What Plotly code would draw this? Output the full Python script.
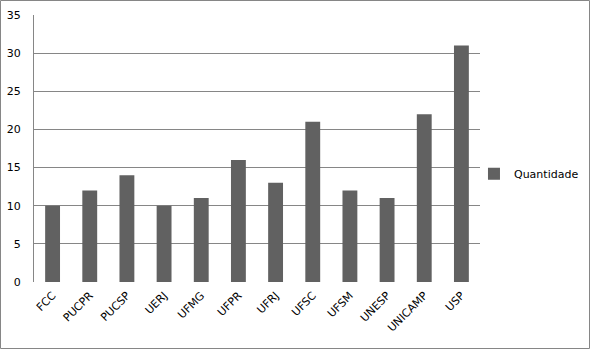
import plotly.graph_objects as go

categories = ["FCC", "PUCPR", "PUCSP", "UERJ", "UFMG", "UFPR", "UFRJ", "UFSC", "UFSM", "UNESP", "UNICAMP", "USP"]
quantidade = [10, 12, 14, 10, 11, 16, 13, 21, 12, 11, 22, 31]
series_name = "Quantidade"
y_ticks = [0, 5, 10, 15, 20, 25, 30, 35]

W, H = 590, 349
L, R, T, B = 34, 110, 15, 67
pw, ph = W - L - R, H - T - B

fig = go.Figure()
fig.add_trace(go.Bar(x=categories, y=quantidade, name=series_name,
                     marker=dict(color="#616161", line=dict(width=0))))

fig.update_layout(
    width=W, height=H,
    margin=dict(l=L, r=R, t=T, b=B, pad=0, autoexpand=False),
    paper_bgcolor="white", plot_bgcolor="white",
    font=dict(family="DejaVu Sans", size=11, color="black"),
    bargap=0.6,
    showlegend=True,
    legend=dict(x=-0.0135 + 1.0, y=0.405, xanchor="left", yanchor="middle",
                font=dict(size=11), itemwidth=30, bgcolor="rgba(0,0,0,0)"),
    xaxis=dict(tickangle=-45, showgrid=False, showline=False, ticks="",
               tickfont=dict(size=11), ticklabelstandoff=4),
    yaxis=dict(range=[0, 35], tickvals=y_ticks, showgrid=True, gridcolor="#868686",
               gridwidth=1, showline=True, linecolor="#868686", linewidth=1,
               ticks="", zeroline=False, ticklabelstandoff=10, tickfont=dict(size=11)),
    shapes=[dict(type="rect", xref="paper", yref="paper",
                 x0=(-L + 0.5) / pw, x1=(W - L - 0.5) / pw,
                 y0=(-B + 0.5) / ph, y1=(H - B - 0.5) / ph,
                 line=dict(color="#868686", width=1), fillcolor="rgba(0,0,0,0)")],
)

fig.write_html("out.html", config={"displayModeBar": False},
               post_script="document.body.style.margin='0';")
